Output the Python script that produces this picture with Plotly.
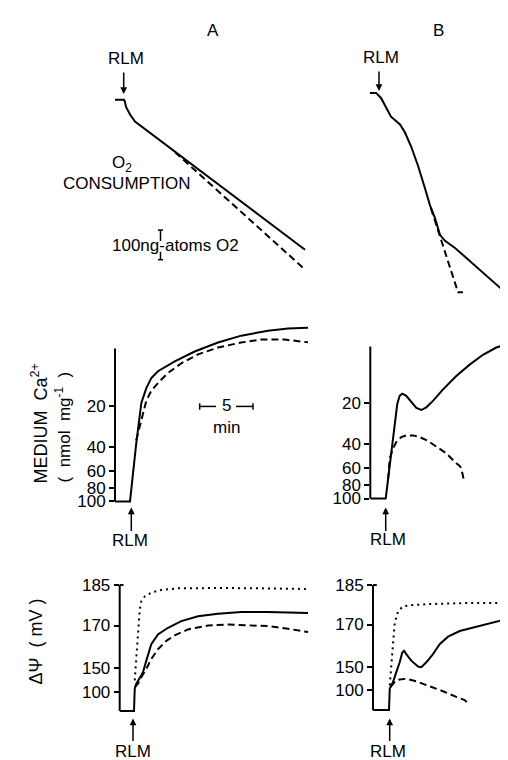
import plotly.graph_objects as go

W, H = 508, 760

# ---------------- data (time after RLM addition, min) ----------------
# O2 consumption traces (change in O2, ng-atoms O)
o2A_t = [-0.85, 0.0, 0.09, 0.19, 0.57, 1.04, 17.08]
o2A_solid = [0, 0, -6, -21, -44, -65, -447]
o2A_dash_t = [4.81, 17.08]
o2A_dash = [-156, -506]

o2B_t = [-0.66, -0.09, 0.38, 0.85, 1.32, 2.17, 2.64, 3.21, 3.87, 4.53, 5.0,
         5.47, 5.94, 6.42, 7.36, 12.08, 12.83]
o2B_solid = [0, 0, -15, -44, -71, -94, -118, -159, -217, -285, -335,
             -373, -423, -441, -462, -594, -594]
o2B_dash_t = [5.09, 6.42, 7.64, 8.11]
o2B_dash = [-344, -476, -594, -594]

# Medium Ca2+ (nmol/mg)
caA_t = [-1.42, 0, 0.59, 1.07, 1.54, 2.01, 2.64, 4.22, 6.10, 8.30, 10.50, 13.02, 14.91, 16.79]
caA_solid = [100, 100, 37.4, 18.9, 14.7, 12.4, 11.05, 9.35, 7.92, 6.81, 6.06, 5.58, 5.37, 5.30]
caA_dash_t = [0.59, 0.92, 1.23, 1.54, 2.01, 2.64, 3.58, 4.84, 6.42, 8.30, 10.47, 12.36, 14.62, 16.79]
caA_dash = [35.5, 28.6, 22.65, 18.2, 15.4, 13.5, 11.4, 9.67, 8.32, 7.41, 6.81, 6.48, 6.48, 6.78]

caB_t = [-1.48, 0, 0.22, 0.53, 0.85, 1.09, 1.32, 1.57, 1.94, 2.42, 2.89, 3.36, 3.83,
         4.46, 5.41, 6.66, 7.92, 9.18, 10.43, 11.23, 11.63]
caB_solid = [100, 100, 72.8, 46.6, 28.3, 20.25, 17.6, 17.0, 17.6, 19.7, 21.65, 22.4, 21.4,
             19.2, 15.8, 12.6, 10.4, 8.80, 7.79, 7.45, 8.09]
caB_dash_t = [0.22, 0.38, 0.69, 1.0, 1.47, 1.94, 2.58, 3.21, 3.99, 4.77, 5.72, 6.51, 7.04, 7.23, 7.36]
caB_dash = [72.8, 50.7, 42.9, 38.5, 35.4, 34.4, 34.4, 35.4, 37.8, 41.8, 46.6, 53.7, 58.3, 65.1, 72.8]
ca_ticks = [20, 40, 60, 80, 100]

# Membrane potential (electrode deflection, chart units)
psiA_t = [-1.36, 0, 0.07, 0.22, 0.54, 0.85, 1.16, 1.63, 2.26, 3.21, 4.46, 6.04, 7.92,
          10.12, 12.64, 14.53, 16.42]
psiA_solid = [0, 0, 2.26, 2.76, 3.33, 3.93, 5.10, 6.76, 7.76, 8.43, 9.10, 9.60, 9.86,
              10.03, 10.03, 10.0, 9.93]
psiA_dash_t = [0.07, 0.38, 0.69, 1.16, 1.63, 2.26, 3.05, 3.84, 5.09, 6.98, 8.87, 10.75,
               12.64, 14.53, 16.42]
psiA_dash = [2.43, 2.76, 3.43, 4.26, 5.26, 6.26, 7.10, 7.66, 8.26, 8.66, 8.76, 8.70,
             8.60, 8.33, 8.0]
psiA_dot_t = [0.07, 0.22, 0.38, 0.54, 0.69, 1.01, 1.63, 2.58, 4.15, 6.04, 8.56, 11.70,
              14.22, 16.42]
psiA_dot = [3.10, 5.26, 7.93, 10.26, 11.10, 11.60, 12.0, 12.26, 12.43, 12.46, 12.46,
            12.43, 12.36, 12.36]

psiB_t = [-1.51, 0, 0.07, 0.38, 0.69, 1.01, 1.25, 1.42, 1.63, 2.10, 2.74, 3.05, 3.52,
          4.15, 4.78, 5.57, 6.67, 7.92, 9.50, 11.23, 11.54, 11.89]
psiB_solid = [0, 0, 2.16, 2.83, 3.83, 4.83, 5.83, 6.0, 5.66, 5.0, 4.4, 4.33, 4.83,
              5.66, 6.66, 7.43, 8.0, 8.33, 8.73, 9.26, 9.0, 8.66]
psiB_dash_t = [0.12, 0.54, 1.01, 1.63, 2.58, 3.84, 5.09, 6.35, 7.14, 7.55]
psiB_dash = [2.33, 2.83, 3.10, 3.16, 2.90, 2.43, 1.90, 1.33, 1.0, 0.56]
psiB_dot_t = [0.07, 0.22, 0.38, 0.54, 0.85, 1.32, 2.26, 3.84, 6.98, 10.12, 11.86]
psiB_dot = [2.5, 4.83, 7.16, 8.83, 10.0, 10.5, 10.63, 10.73, 10.83, 10.86, 10.86]

psiA_tickpos = [12.76, 8.66, 4.33, 1.93]
psiB_tickpos = [12.66, 8.66, 4.33, 2.0]
psi_ticklabels = ["185", "170", "150", "100"]

# ---------------- layout helpers ----------------
FONT = "Liberation Sans, Arial, sans-serif"
FS = 17
PX_PER_MIN = 10.6


def px(x):
    return x / W


def py(y):
    return 1 - y / H


fig = go.Figure()
layout = dict(width=W, height=H, margin=dict(l=0, r=0, t=0, b=0),
              paper_bgcolor="white", plot_bgcolor="white", showlegend=False,
              font=dict(family=FONT, color="black", size=FS))

SOLID = dict(color="black", width=2)
DASH = dict(color="black", width=2, dash="7px,4px")
DOT = dict(color="black", width=2, dash="2px,4px")


def panel(i, left, right, top, bottom, x0px, y_range, ylog=False, ytick=None):
    xr = [(left - x0px) / PX_PER_MIN, (right - x0px) / PX_PER_MIN]
    layout["xaxis%d" % i] = dict(domain=[px(left), px(right)], range=xr, visible=False,
                                 anchor="y%d" % i)
    ya = dict(domain=[py(bottom), py(top)], range=y_range, anchor="x%d" % i,
              showgrid=False, zeroline=False, showline=False)
    if ylog:
        ya["type"] = "log"
    if ytick is None:
        ya["visible"] = False
    else:
        vals, texts = ytick
        ya.update(tickmode="array", tickvals=vals, ticktext=texts, ticks="outside",
                  ticklen=5, tickwidth=1.5, tickcolor="black",
                  tickfont=dict(size=FS, family=FONT, color="black"))
    layout["yaxis%d" % i] = ya


def add(i, t, v, line):
    fig.add_trace(go.Scatter(x=t, y=v, mode="lines", line=line, hoverinfo="skip",
                             xaxis="x%d" % i, yaxis="y%d" % i))


# O2 panels: 0.34 px per ng-atom
PPU_O2 = 0.34
panel(1, 104, 306, 78, 272, 116, [(90 - 272) / PPU_O2, (90 - 78) / PPU_O2])
panel(2, 355, 508, 72, 292, 369, [(83 - 292) / PPU_O2, (83 - 72) / PPU_O2])
add(1, o2A_t, o2A_solid, SOLID)
add(1, o2A_dash_t, o2A_dash, DASH)
add(2, o2B_t, o2B_solid, SOLID)
add(2, o2B_dash_t, o2B_dash, DASH)

# Ca panels: log scale reversed, 138 px per decade
DEC = 138.0
panel(3, 107, 306, 312, 500, 122, [2 + 3 / DEC, 2 - (497 - 312) / DEC], ylog=True,
      ytick=(ca_ticks, [str(v) for v in ca_ticks]))
panel(4, 362.3, 508, 312, 497, 377.7, [2 + 3 / DEC, 2 - (494 - 312) / DEC], ylog=True,
      ytick=(ca_ticks, [str(v) for v in ca_ticks]))
add(3, caA_t, caA_solid, SOLID)
add(3, caA_dash_t, caA_dash, DASH)
add(4, caB_t, caB_solid, SOLID)
add(4, caB_dash_t, caB_dash, DASH)

# Potential panels: 10 px per chart unit
panel(5, 111.7, 306, 576, 712, 126, [(709.3 - 712) / 10, (709.3 - 576) / 10],
      ytick=(psiA_tickpos, psi_ticklabels))
panel(6, 365, 508, 576, 711, 381, [(708.3 - 711) / 10, (708.3 - 576) / 10],
      ytick=(psiB_tickpos, psi_ticklabels))
add(5, psiA_t, psiA_solid, SOLID)
add(5, psiA_dash_t, psiA_dash, DASH)
add(5, psiA_dot_t, psiA_dot, DOT)
add(6, psiB_t, psiB_solid, SOLID)
add(6, psiB_dash_t, psiB_dash, DASH)
add(6, psiB_dot_t, psiB_dot, DOT)

# ---------------- axis lines and scale bars (shapes) ----------------
shapes = []


def seg(x0, y0, x1, y1, w=2):
    shapes.append(dict(type="line", xref="paper", yref="paper", x0=px(x0), y0=py(y0),
                       x1=px(x1), y1=py(y1), line=dict(color="black", width=w)))


seg(107, 342, 107, 497)
seg(362.3, 340, 362.3, 494)
seg(111.7, 581.7, 111.7, 709.3)
seg(111.7, 581.7, 115.5, 581.7)
seg(365, 581.7, 365, 708.3)
seg(365, 581.7, 368.8, 581.7)
# 100 ng-atoms O2 bar
seg(152.5, 222, 152.5, 233, 1.5)
seg(150, 222, 155, 222, 1.5)
seg(152.5, 244, 152.5, 252, 1.5)
seg(150, 252, 155, 252, 1.5)
# 5 min bar
seg(191.7, 400.7, 208, 400.7, 1.5)
seg(228, 400.7, 245, 400.7, 1.5)
seg(191.7, 397.5, 191.7, 404, 1.5)
seg(245, 397.5, 245, 404, 1.5)
layout["shapes"] = shapes

# ---------------- text ----------------
anns = []


def text(x, y, s, size=FS, angle=0):
    anns.append(dict(x=px(x), y=py(y), xref="paper", yref="paper", text=s,
                     showarrow=False, textangle=angle, xanchor="center", yanchor="middle",
                     font=dict(size=size, family=FONT, color="black")))


def arrow(x, yhead, ytail):
    anns.append(dict(x=px(x), y=py(yhead), xref="paper", yref="paper", text="",
                     showarrow=True, ax=0, ay=ytail - yhead, arrowhead=2, arrowsize=0.9,
                     arrowwidth=1.5, arrowcolor="black"))


text(205, 20, "A")
text(430, 20, "B")
text(118.3, 48.5, "RLM")
arrow(115.7, 84, 61)
text(373.3, 47, "RLM")
arrow(371, 81, 60)
text(114, 155, "O<sub>2</sub>")
text(118.5, 175, "CONSUMPTION")
text(167, 238, "100ng-atoms O2")
text(218, 400, "5")
text(218, 422, "min")
text(32, 418, "MEDIUM  Ca<sup>2+</sup>", 18, -90)
text(55, 422, "(  nmol  mg<sup>-1</sup>  )", 17, -90)
text(28, 639, "ΔΨ  ( mV )", 18, -90)
arrow(123.3, 503, 528)
text(121.7, 537, "RLM")
arrow(377.7, 503, 528)
text(380, 536, "RLM")
arrow(125, 717, 741)
text(125, 750, "RLM")
arrow(381.7, 717, 741)
text(380, 750, "RLM")
layout["annotations"] = anns

fig.update_layout(**layout)
fig.write_html("out.html")
